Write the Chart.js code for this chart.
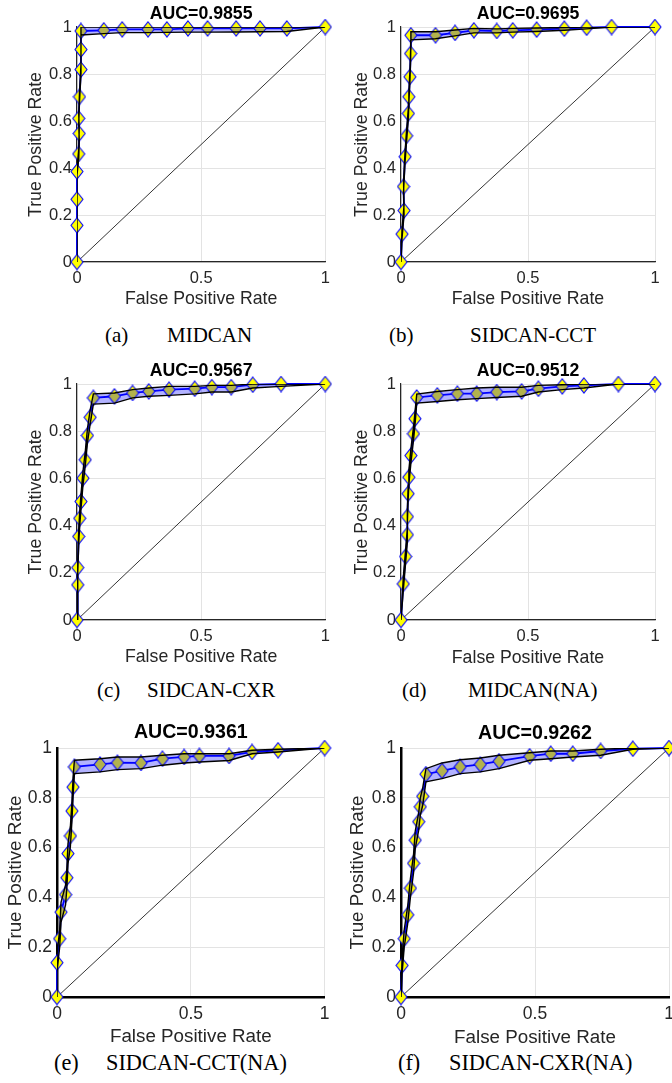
<!DOCTYPE html>
<html>
<head>
<meta charset="utf-8">
<script src="https://cdn.jsdelivr.net/npm/chart.js@4/dist/chart.umd.min.js"></script>
<style>
  html, body { margin: 0; padding: 0; background: #fff; }
  #page { position: relative; width: 672px; height: 1083px; overflow: hidden; background: #fff; }
  canvas { position: absolute; }
  .cap { position: absolute; font-family: "Liberation Serif", "Times New Roman", serif; color: #000; line-height: 1; white-space: nowrap; }
</style>
</head>
<body>
<div id="page"></div>
<script>
// mean ROC points, upper / lower band for each model
const fprA = [0, 0, 0, 0, 0.007, 0.009, 0.007, 0.010, 0.016, 0.016, 0.016, 0.108, 0.182, 0.286, 0.362, 0.447, 0.526, 0.641, 0.737, 0.845, 1];
const tprA = [0, 0.156, 0.267, 0.385, 0.460, 0.547, 0.611, 0.703, 0.819, 0.904, 0.983, 0.986, 0.990, 0.990, 0.990, 0.994, 0.994, 0.994, 0.994, 0.994, 1];
const upA  = [0, 0.17, 0.28, 0.40, 0.48, 0.57, 0.63, 0.72, 0.84, 0.93, 1.0, 1.0, 1.0, 1.0, 1.0, 1.0, 1.0, 1.0, 1.0, 1.0, 1];
const loA  = [0, 0.14, 0.25, 0.37, 0.44, 0.52, 0.59, 0.68, 0.80, 0.88, 0.966, 0.972, 0.976, 0.976, 0.977, 0.978, 0.978, 0.979, 0.98, 0.981, 1];

const fprB = [0, 0.004, 0.012, 0.010, 0.016, 0.022, 0.029, 0.031, 0.035, 0.038, 0.039, 0.136, 0.213, 0.287, 0.377, 0.440, 0.534, 0.643, 0.731, 0.829, 1];
const tprB = [0, 0.119, 0.219, 0.321, 0.448, 0.537, 0.632, 0.703, 0.788, 0.887, 0.965, 0.965, 0.975, 0.986, 0.983, 0.986, 0.989, 0.993, 0.997, 1.0, 1];
const upB  = [0, 0.14, 0.24, 0.345, 0.47, 0.56, 0.655, 0.725, 0.81, 0.905, 0.98, 0.98, 0.987, 0.994, 0.992, 0.994, 0.996, 0.998, 1.0, 1.0, 1];
const loB  = [0, 0.10, 0.20, 0.30, 0.425, 0.515, 0.61, 0.68, 0.765, 0.865, 0.945, 0.95, 0.962, 0.975, 0.975, 0.978, 0.981, 0.986, 0.992, 1.0, 1];

const fprC = [0, 0.003, 0.003, 0.007, 0.011, 0.016, 0.024, 0.033, 0.042, 0.053, 0.066, 0.151, 0.224, 0.289, 0.371, 0.474, 0.543, 0.621, 0.708, 0.822, 1];
const tprC = [0, 0.149, 0.222, 0.354, 0.431, 0.502, 0.601, 0.679, 0.782, 0.859, 0.941, 0.948, 0.962, 0.969, 0.976, 0.980, 0.987, 0.987, 0.997, 1.0, 1];
const upC  = [0, 0.17, 0.25, 0.385, 0.46, 0.53, 0.63, 0.71, 0.81, 0.89, 0.958, 0.962, 0.976, 0.983, 0.99, 0.99, 0.994, 0.994, 1.0, 1.0, 1];
const loC  = [0, 0.13, 0.20, 0.325, 0.40, 0.47, 0.57, 0.65, 0.75, 0.83, 0.915, 0.919, 0.941, 0.948, 0.952, 0.958, 0.966, 0.966, 0.983, 0.99, 1];

const fprD = [0, 0.009, 0.018, 0.025, 0.025, 0.028, 0.031, 0.039, 0.049, 0.055, 0.062, 0.143, 0.222, 0.298, 0.377, 0.475, 0.541, 0.635, 0.720, 0.856, 1];
const tprD = [0, 0.153, 0.269, 0.361, 0.438, 0.535, 0.605, 0.697, 0.789, 0.853, 0.943, 0.952, 0.959, 0.959, 0.966, 0.969, 0.980, 0.990, 0.994, 1.0, 1];
const upD  = [0, 0.18, 0.295, 0.39, 0.465, 0.56, 0.635, 0.725, 0.815, 0.88, 0.957, 0.968, 0.976, 0.983, 0.986, 0.986, 0.994, 0.997, 1.0, 1.0, 1];
const loD  = [0, 0.125, 0.24, 0.33, 0.41, 0.505, 0.575, 0.665, 0.76, 0.825, 0.919, 0.926, 0.933, 0.938, 0.943, 0.948, 0.966, 0.976, 0.983, 1.0, 1];

const fprE = [0, 0, 0.010, 0.015, 0.032, 0.037, 0.041, 0.050, 0.056, 0.060, 0.065, 0.161, 0.226, 0.314, 0.394, 0.475, 0.532, 0.643, 0.729, 0.826, 1];
const tprE = [0, 0.138, 0.234, 0.341, 0.411, 0.479, 0.576, 0.647, 0.747, 0.843, 0.924, 0.934, 0.941, 0.940, 0.957, 0.964, 0.968, 0.968, 0.984, 0.991, 1];
const upE  = [0, 0.17, 0.27, 0.38, 0.45, 0.52, 0.615, 0.685, 0.785, 0.88, 0.951, 0.957, 0.964, 0.964, 0.971, 0.977, 0.977, 0.977, 0.991, 0.995, 1];
const loE  = [0, 0.10, 0.20, 0.30, 0.37, 0.44, 0.535, 0.605, 0.71, 0.805, 0.897, 0.904, 0.913, 0.917, 0.931, 0.940, 0.944, 0.950, 0.977, 0.984, 1];

const fprF = [0, 0.004, 0.012, 0.025, 0.035, 0.047, 0.053, 0.066, 0.072, 0.081, 0.093, 0.153, 0.221, 0.296, 0.366, 0.480, 0.559, 0.641, 0.745, 0.865, 1];
const tprF = [0, 0.127, 0.234, 0.330, 0.437, 0.537, 0.630, 0.704, 0.764, 0.806, 0.895, 0.908, 0.924, 0.934, 0.947, 0.967, 0.977, 0.977, 0.988, 0.997, 1];
const upF  = [0, 0.16, 0.27, 0.365, 0.475, 0.575, 0.665, 0.74, 0.80, 0.84, 0.917, 0.94, 0.953, 0.96, 0.971, 0.981, 0.988, 0.988, 0.995, 1.0, 1];
const loF  = [0, 0.095, 0.20, 0.295, 0.40, 0.50, 0.595, 0.67, 0.73, 0.77, 0.864, 0.877, 0.897, 0.904, 0.917, 0.951, 0.957, 0.964, 0.971, 0.995, 1];

const aucTitles = ['AUC=0.9855', 'AUC=0.9695', 'AUC=0.9567', 'AUC=0.9512', 'AUC=0.9361', 'AUC=0.9262'];
const capTags = ['(a)', '(b)', '(c)', '(d)', '(e)', '(f)'];
const capNames = ['MIDCAN', 'SIDCAN-CCT', 'SIDCAN-CXR', 'MIDCAN(NA)', 'SIDCAN-CCT(NA)', 'SIDCAN-CXR(NA)'];
const xTicks = [0, 0.5, 1];
const yTicks = [0, 0.2, 0.4, 0.6, 0.8, 1];
const chanceX = [0, 1];
const chanceY = [0, 1];

const series = [
  [fprA, tprA, upA, loA], [fprB, tprB, upB, loB], [fprC, tprC, upC, loC],
  [fprD, tprD, upD, loD], [fprE, tprE, upE, loE], [fprF, tprF, upF, loF]
];

// page layout (absolute px): canvas box, plot area, text centres
const small = { title: 17.7, tick: 16.5, axis: 17.7, cap: 21, axisW: 1.2, axisC: '#262626' };
const big = { title: 19.6, tick: 17.5, axis: 18.8, cap: 22.3, axisW: 2.5, axisC: '#000' };
const panels = [
  { cx: 0, cy: 0, cw: 336, ch: 316, L: 77, R: 330, T: 27, B: 262, tY: 14, yT: 36, xT: 299, xTick: 278, tag: 105, name: 167, capY: 335, f: small },
  { cx: 336, cy: 0, cw: 336, ch: 316, L: 401, R: 655, T: 27, B: 262, tY: 14, yT: 362, xT: 299, xTick: 278, tag: 389, name: 470, capY: 335, f: small },
  { cx: 0, cy: 345, cw: 336, ch: 323, L: 77, R: 330, T: 384, B: 620, tY: 371, yT: 36, xT: 657, xTick: 636, tag: 97, name: 147, capY: 690, f: small },
  { cx: 336, cy: 345, cw: 336, ch: 323, L: 401, R: 655, T: 384, B: 620, tY: 371, yT: 362, xT: 658, xTick: 636, tag: 402, name: 468, capY: 690, f: small },
  { cx: 0, cy: 715, cw: 336, ch: 333, L: 57, R: 325, T: 748, B: 997, tY: 733, yT: 16, xT: 1037, xTick: 1014, tag: 54, name: 106, capY: 1063, f: big },
  { cx: 336, cy: 715, cw: 346, ch: 333, L: 401, R: 669, T: 748, B: 997, tY: 734, yT: 358, xT: 1038, xTick: 1014, tag: 398, name: 449, capY: 1063, f: big }
];

const sans = "'Liberation Sans', Arial, sans-serif";
const page = document.getElementById('page');

// MATLAB style diamond marker (a little taller than wide)
function makeDiamond(w, h) {
  const c = document.createElement('canvas');
  c.width = w + 2;
  c.height = h + 2;
  const ctx = c.getContext('2d');
  ctx.beginPath();
  ctx.moveTo(c.width / 2, 1);
  ctx.lineTo(c.width - 1, c.height / 2);
  ctx.lineTo(c.width / 2, c.height - 1);
  ctx.lineTo(1, c.height / 2);
  ctx.closePath();
  ctx.fillStyle = '#ffff00';
  ctx.fill();
  ctx.strokeStyle = '#0000ff';
  ctx.lineWidth = 1.1;
  ctx.stroke();
  return c;
}
const diamond = makeDiamond(12, 15);

function toPoints(xs, ys) {
  return xs.map((x, i) => ({ x: x, y: ys[i] }));
}

function drawPanel(i) {
  const g = panels[i];
  const [fpr, tpr, up, lo] = series[i];
  const f = g.f;
  const lhT = f.title * 1.2, lhA = f.axis * 1.2, lhK = f.tick * 1.2;

  const canvas = document.createElement('canvas');
  canvas.width = g.cw;
  canvas.height = g.ch;
  canvas.style.left = g.cx + 'px';
  canvas.style.top = g.cy + 'px';
  page.appendChild(canvas);

  const titleTop = g.tY - g.cy - lhT / 2;
  const titleBottom = (g.T - g.cy) - titleTop - lhT;

  // band outline: upper edge forward, lower edge back
  const band = toPoints(fpr, up).concat(toPoints(fpr, lo).reverse());

  new Chart(canvas, {
    type: 'line',
    data: {
      datasets: [
        { data: band, fill: 'shape', backgroundColor: 'rgba(0,0,255,0.3)', borderColor: '#000', borderWidth: 1.4, pointRadius: 0, order: 0 },
        { data: toPoints(fpr, tpr), fill: false, borderColor: '#0000ff', borderWidth: 1.8, pointStyle: diamond, pointRadius: 7,
          clip: false, order: 1 },
        { data: toPoints(chanceX, chanceY), fill: false, borderColor: '#000', borderWidth: 0.8, pointRadius: 0, order: 2 }
      ]
    },
    options: {
      responsive: false,
      animation: false,
      devicePixelRatio: 1,
      layout: { padding: { left: 0, top: 0, bottom: 0, right: g.cx + g.cw - g.R } },
      plugins: {
        legend: { display: false },
        tooltip: { enabled: false },
        title: {
          display: true, text: aucTitles[i], fullSize: false, color: '#000',
          font: { family: sans, size: f.title, weight: 'bold', lineHeight: 1.2 },
          padding: { top: titleTop, bottom: titleBottom }
        }
      },
      scales: {
        x: {
          type: 'linear', min: 0, max: 1,
          afterFit: (s) => { s.height = g.cy + g.ch - g.B; },
          afterBuildTicks: (s) => { s.ticks = xTicks.map(v => ({ value: v })); },
          ticks: { color: '#262626', font: { family: sans, size: f.tick }, padding: g.xTick - g.B - lhK / 2, maxRotation: 0,
                   callback: (v) => String(v) },
          grid: { color: '#e3e3e3', lineWidth: 1, drawTicks: false },
          border: { display: true, color: f.axisC, width: f.axisW },
          title: { display: true, text: 'False Positive Rate', color: '#262626', font: { family: sans, size: f.axis, lineHeight: 1.2 },
                   padding: { top: 0, bottom: g.cy + g.ch - g.xT - lhA / 2 } }
        },
        y: {
          type: 'linear', min: 0, max: 1,
          afterFit: (s) => { s.width = g.L - g.cx; },
          afterBuildTicks: (s) => { s.ticks = yTicks.map(v => ({ value: v })); },
          ticks: { color: '#262626', font: { family: sans, size: f.tick }, padding: 5, callback: (v) => String(v) },
          grid: { color: '#e3e3e3', lineWidth: 1, drawTicks: false },
          border: { display: true, color: f.axisC, width: f.axisW },
          title: { display: true, text: 'True Positive Rate', color: '#262626', font: { family: sans, size: f.axis, lineHeight: 1.2 },
                   padding: { top: g.yT - g.cx - lhA / 2, bottom: 0 } }
        }
      }
    }
  });

  const tag = document.createElement('div');
  tag.className = 'cap';
  tag.style.fontSize = f.cap + 'px';
  tag.style.left = g.tag + 'px';
  tag.style.top = (g.capY - f.cap / 2) + 'px';
  tag.textContent = capTags[i];
  page.appendChild(tag);

  const name = document.createElement('div');
  name.className = 'cap';
  name.style.fontSize = f.cap + 'px';
  name.style.left = g.name + 'px';
  name.style.top = (g.capY - f.cap / 2) + 'px';
  name.textContent = capNames[i];
  page.appendChild(name);
}

for (let i = 0; i < panels.length; i++) {
  drawPanel(i);
}
</script>
</body>
</html>
